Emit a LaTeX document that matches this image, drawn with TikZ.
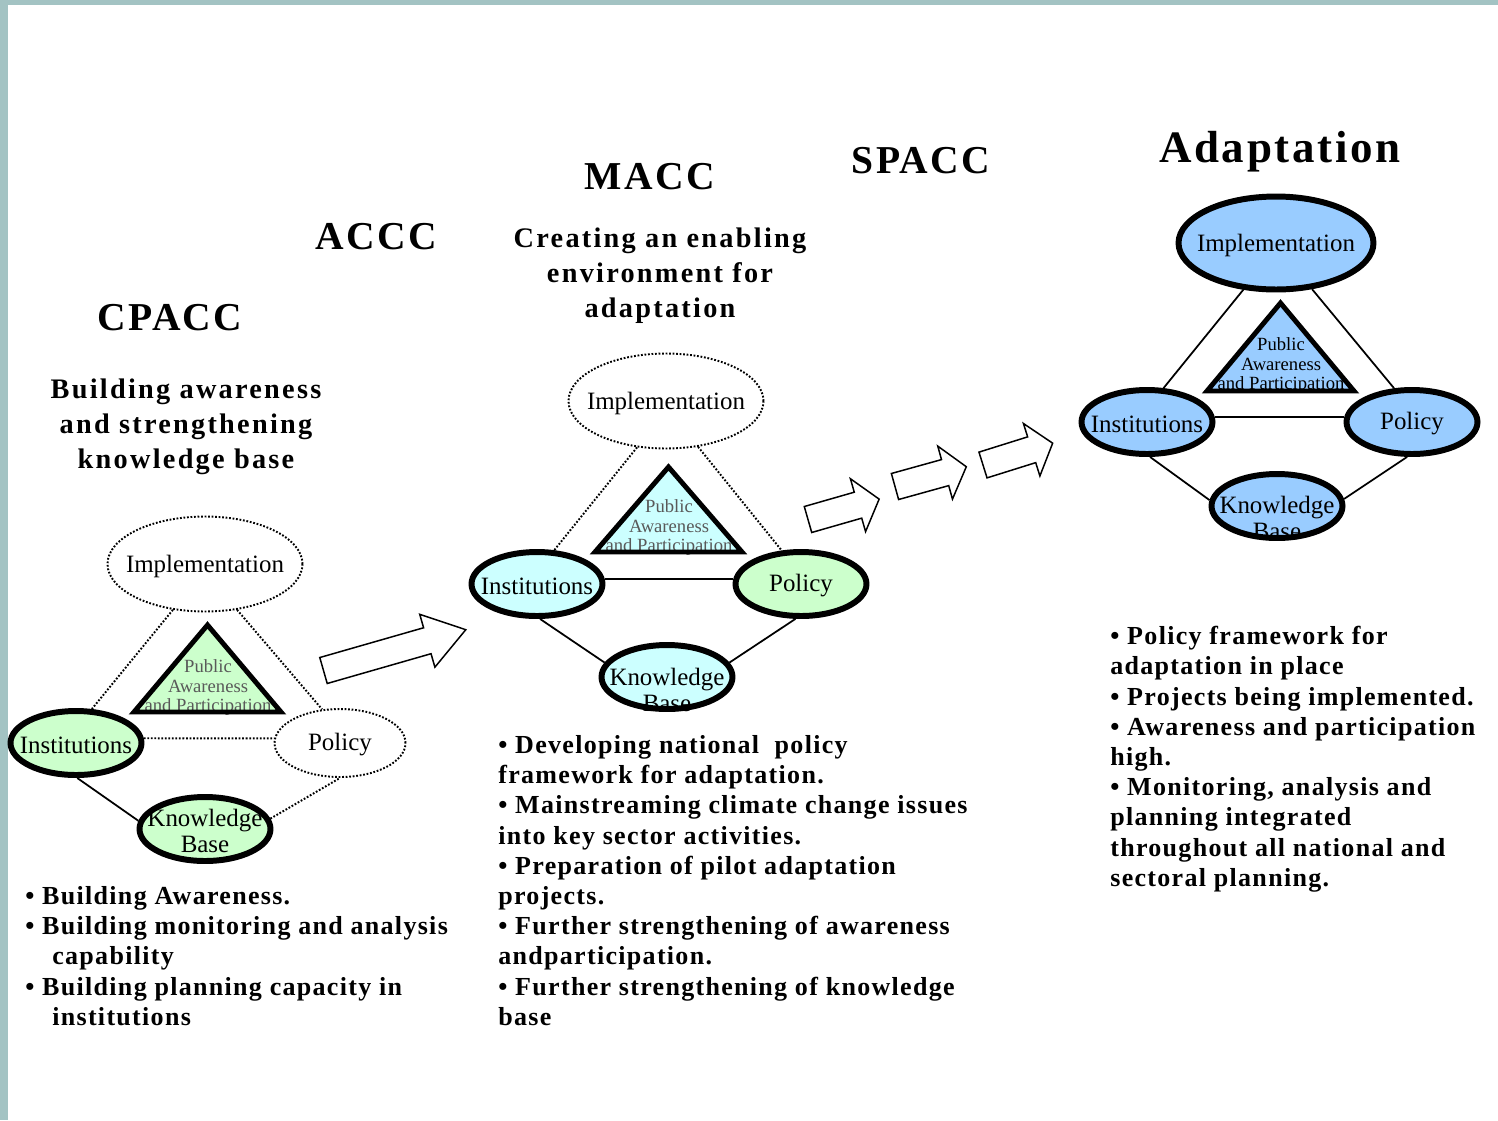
\documentclass[tikz,border=0pt]{standalone}
\usepackage{fontspec}
\setmainfont{Liberation Serif}
\newfontfamily\headfont[LetterSpace=6]{Liberation Serif}
\newfontfamily\subfont[LetterSpace=8]{Liberation Serif}
\newfontfamily\listfont[LetterSpace=5]{Liberation Serif}
\usepackage{tikz}
\usetikzlibrary{shapes.geometric}
\definecolor{greenfill}{HTML}{CCFFCC}
\definecolor{cyanfill}{HTML}{CCFFFF}
\definecolor{bluefill}{HTML}{99CCFF}
\definecolor{stripcol}{HTML}{A3C3C3}

\begin{document}
\begin{tikzpicture}[x=0.02cm,y=-0.02cm,
    bigell/.style={ellipse,inner sep=0pt,minimum width=3.9cm,minimum height=1.9cm},
    smallell/.style={ellipse,inner sep=0pt,minimum width=2.62cm,minimum height=1.28cm},
    solidell/.style={draw,line width=3.4pt},
    dotell/.style={draw,fill=white,line width=1.1pt,dash pattern=on 1pt off 1pt},
    nodetext/.style={font=\fontsize{14.2}{14.8}\selectfont,align=center,inner sep=0pt,yshift=-0.04cm},
    patext/.style={font=\fontsize{10.6}{11.1}\selectfont,align=center,inner sep=0pt},
    tri/.style={line width=2.8pt},
    link/.style={line width=1pt},
    dotlink/.style={line width=1.1pt,dash pattern=on 1pt off 1pt},
    title/.style={font=\headfont\bfseries\fontsize{22.5}{25}\selectfont,anchor=base,inner sep=0pt},
    subtitle/.style={font=\subfont\bfseries\fontsize{16.1}{19.9}\selectfont,align=center,anchor=north,inner sep=0pt},
    listtext/.style={font=\listfont\bfseries\fontsize{14.8}{17.2}\selectfont,align=left,anchor=north west,inner sep=0pt},
    blockarrow/.style={draw,fill=white,line width=0.85pt}]
  \useasboundingbox (0,0) rectangle (1498,1120);
  \fill[white] (0,0) rectangle (1498,1120);
  \fill[stripcol] (0,0) rectangle (1498,5);
  \fill[stripcol] (0,0) rectangle (8,1120);

  % stage titles
  \node[title] (cpacc) at (170,330) {CPACC};
  \node[title] (accc) at (376,249) {ACCC};
  \node[title] (macc) at (650,189) {MACC};
  \node[title] (spacc) at (921,173) {SPACC};
  \node[title,font=\headfont\bfseries\fontsize{25.6}{28}\selectfont] (adapt) at (1280,162) {Adaptation};
  \node[subtitle] (cpaccsub) at (186,379) {Building awareness\\and strengthening\\knowledge base};
  \node[subtitle] (maccsub) at (660,228) {Creating an enabling\\environment for\\adaptation};

  % CPACC
  \node[bigell,dotell,label={[nodetext]center:Implementation}] (impl1) at (205,564) {};
  \node[smallell,solidell,fill=greenfill,label={[nodetext]center:Institutions}] (inst1) at (76,743) {};
  \node[smallell,dotell,minimum height=1.36cm,label={[nodetext]center:Policy}] (pol1) at (340,743) {};
  \node[smallell,solidell,fill=greenfill,label={[nodetext]center:{Knowledge\\Base}}] (kb1) at (205,829) {};
  \fill[greenfill] (207.5,625) -- (281,712) -- (134,712) -- cycle;
  \node[patext,text=black!65] (pa1) at (208,688) {Public\\Awareness\\and Participation};
  \draw[tri] (207.5,625) -- (281,712) -- (134,712) -- cycle;
  \draw[dotlink] (impl1.235) -- (inst1.65);
  \draw[dotlink] (impl1.305) -- (pol1.118);
  \draw[dotlink] (inst1.4) -- (pol1.176);
  \draw[link] (inst1.272) -- (kb1.173);
  \draw[dotlink] (kb1.9) -- (pol1.270);

  % MACC
  \node[bigell,dotell,label={[nodetext]center:Implementation}] (impl2) at (666,401) {};
  \node[smallell,solidell,fill=cyanfill,label={[nodetext]center:Institutions}] (inst2) at (537,584) {};
  \node[smallell,solidell,fill=greenfill,label={[nodetext]center:Policy}] (pol2) at (801,584) {};
  \node[smallell,solidell,fill=cyanfill,label={[nodetext,yshift=-0.22cm]center:{Knowledge\\Base}}] (kb2) at (667,677) {};
  \fill[cyanfill] (668.5,467) -- (742,552) -- (595,552) -- cycle;
  \node[patext,text=black!65] (pa2) at (669,528) {Public\\Awareness\\and Participation};
  \draw[tri] (668.5,467) -- (742,552) -- (595,552) -- cycle;
  \draw[dotlink] (impl2.238) -- (inst2.63);
  \draw[dotlink] (impl2.305) -- (pol2.120);
  \draw[link] (inst2.4) -- (pol2.176);
  \draw[link] (inst2.275) -- (kb2.167);
  \draw[link] (pol2.261) -- (kb2.13);

  % Adaptation
  \node[bigell,solidell,fill=bluefill,minimum height=1.86cm,label={[nodetext]center:Implementation}] (impl3) at (1276,243) {};
  \node[smallell,solidell,fill=bluefill,label={[nodetext]center:Institutions}] (inst3) at (1147,422) {};
  \node[smallell,solidell,fill=bluefill,label={[nodetext]center:Policy}] (pol3) at (1412,422) {};
  \node[smallell,solidell,fill=bluefill,label={[nodetext,yshift=-0.2cm]center:{Knowledge\\Base}}] (kb3) at (1277,506) {};
  \fill[bluefill] (1280.5,303) -- (1354,391) -- (1207,391) -- cycle;
  \node[patext] (pa3) at (1281,366) {Public\\Awareness\\and Participation};
  \draw[tri] (1280.5,303) -- (1354,391) -- (1207,391) -- cycle;
  \draw[link] (impl3.235) -- (inst3.64);
  \draw[link] (impl3.308) -- (pol3.118);
  \draw[link] (inst3.4) -- (pol3.176);
  \draw[link] (inst3.275) -- (kb3.175);
  \draw[link] (pol3.262) -- (kb3.6);

  % progress arrows
  \foreach \ax/\ay/\ang/\len/\hd in {323.5/670.5/16/148/40, 808/519.5/16/74/22, 895/486.5/15.5/74/22, 983/465/17.4/73/22}
    \draw[blockarrow,shift={(\ax,\ay)},rotate=\ang] (0,-13.5) -- (\len-\hd,-13.5) -- (\len-\hd,-27.5) -- (\len,0) -- (\len-\hd,27.5) -- (\len-\hd,13.5) -- (0,13.5) -- cycle;

  % outcomes
  \node[listtext] (cpacclist) at (25,886) {• Building Awareness.\\• Building monitoring and analysis\\\hspace*{0.54cm}capability\\• Building planning capacity in\\\hspace*{0.54cm}institutions};
  \node[listtext] (macclist) at (498,735) {• Developing national\ \ policy\\framework for adaptation.\\• Mainstreaming climate change issues\\into key sector activities.\\• Preparation of pilot adaptation\\projects.\\• Further strengthening of awareness\\andparticipation.\\• Further strengthening of knowledge\\base};
  \node[listtext] (adaptlist) at (1110,626) {• Policy framework for\\adaptation in place\\• Projects being implemented.\\• Awareness and participation\\high.\\• Monitoring, analysis and\\planning integrated\\throughout all national and\\sectoral planning.};
\end{tikzpicture}
\end{document}
